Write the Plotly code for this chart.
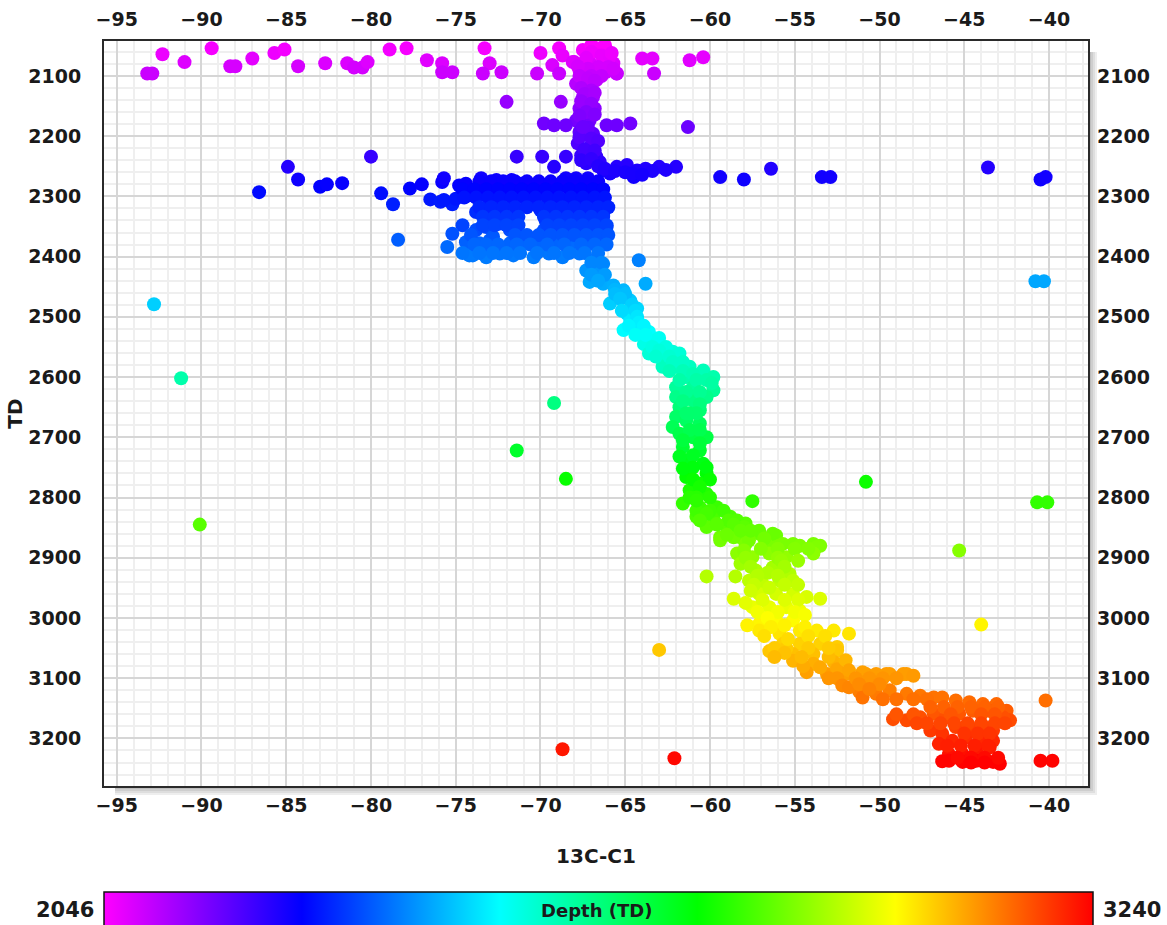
import plotly.graph_objects as go

# ---------------- data (13C-C1 vs TD) ----------------
top_x = [-93.2, -92.9, -92.3, -91.0, -89.4, -88.3, -88.0, -87.0, -85.7, -85.1, -84.3, -82.7,
         -81.4, -81.0, -80.5, -80.2, -78.9, -77.9, -76.7, -75.8, -75.8, -75.2, -73.3, -73.0,
         -73.4, -72.3, -70.0, -70.2, -69.3, -68.9, -68.7, -68.1, -68.9, -65.5, -64.0, -63.4,
         -63.3, -61.2, -60.4]
top_y = [2096, 2096, 2064, 2077, 2054, 2084, 2084, 2071, 2062, 2056, 2084, 2079,
         2079, 2086, 2086, 2077, 2056, 2054, 2074, 2079, 2094, 2094, 2054, 2079,
         2096, 2094, 2062, 2096, 2082, 2054, 2066, 2077, 2096, 2096, 2071, 2071,
         2096, 2074, 2069]

col_x = [-67.5, -66.7, -66.1, -67.1, -66.3, -65.7, -67.7, -66.9, -66.1, -65.5, -67.0, -66.2,
         -68.0, -67.9, -67.1, -66.7, -67.5, -66.9, -67.7, -66.8, -67.9, -67.1, -67.7, -66.9,
         -67.8, -67.0, -67.6, -66.7, -67.3, -66.5, -66.3, -65.9, -65.5, -64.9, -64.5, -64.3,
         -63.8, -63.0, -62.0,
         -67.0, -66.4, -65.9, -67.3, -66.6, -66.0, -67.2, -65.8, -67.8, -66.4, -67.0, -65.7,
         -67.7, -67.2, -66.8, -67.6, -67.0, -67.4, -66.8, -67.6, -67.0, -67.3, -66.8, -67.7,
         -67.2, -67.7, -67.0, -66.6, -67.4, -66.8, -67.6, -67.0, -66.6, -66.2, -65.6, -65.0,
         -64.6, -63.4, -62.6, -64.0,
         -69.8, -69.2, -68.5, -67.5, -66.1, -65.5, -64.7, -61.3, -72.0, -68.8,
         -71.4, -69.9, -68.5, -69.2,
         -59.4, -58.0, -56.4, -53.4, -52.9, -43.6, -40.5, -40.2]
col_y = [2057, 2054, 2057, 2077, 2077, 2079, 2090, 2096, 2093, 2096, 2049, 2049,
         2077, 2113, 2115, 2107, 2135, 2135, 2154, 2154, 2174, 2174, 2193, 2196,
         2212, 2215, 2232, 2234, 2245, 2243, 2257, 2262, 2251, 2248, 2268, 2257,
         2254, 2251, 2251,
         2060, 2066, 2068, 2070, 2085, 2085, 2088, 2062, 2084, 2100, 2100, 2088,
         2100, 2104, 2108, 2120, 2124, 2130, 2128, 2142, 2146, 2160, 2164, 2166,
         2186, 2202, 2204, 2208, 2222, 2224, 2240, 2238, 2250, 2254, 2258, 2260,
         2262, 2258, 2256, 2264,
         2179, 2182, 2182, 2185, 2182, 2182, 2179, 2185, 2143, 2143,
         2234, 2234, 2234, 2251,
         2268, 2272, 2254, 2268, 2268, 2252, 2272, 2268]

left_x = [-80.0, -84.9, -84.3, -83.0, -82.6, -81.7, -86.6, -79.4, -78.7, -78.4, -77.7, -77.0,
          -75.8, -74.8, -76.5, -75.9, -75.2, -74.2, -74.6, -75.2, -75.5, -74.2, -74.0]
left_y = [2234, 2251, 2272, 2284, 2280, 2278, 2293, 2295, 2313, 2372, 2287, 2280,
          2276, 2282, 2305, 2309, 2313, 2298, 2348, 2362, 2384, 2378, 2398]

blob_x = [-75.7, -74.4, -73.5, -72.6, -71.7, -71.1, -70.0, -68.5, -67.9, -67.2,
          -75.7, -75.0, -73.6, -72.8, -71.8, -71.0, -70.0, -69.1, -68.1, -67.1, -66.5,
          -73.8, -73.2, -72.4, -71.4, -70.0, -69.1, -68.1, -67.1, -66.3,
          -73.8, -73.2, -71.8, -71.4, -69.8, -68.9, -67.9, -66.9, -66.1,
          -74.4, -73.6, -73.0, -71.8, -71.0, -70.0, -69.1, -68.1, -67.1, -66.3,
          -74.2, -73.2, -72.4, -71.6, -70.4, -69.5, -68.7, -67.7, -66.9, -66.3,
          -72.2, -69.5, -67.5, -66.5, -72.4, -70.4, -69.5, -68.5, -67.5,
          -72.8, -69.5, -68.5, -67.5, -66.5, -69.7, -68.5, -67.5, -66.5, -72.4, -71.6,
          -73.6, -72.9, -72.2, -71.5, -70.8, -70.1, -69.4, -68.7, -68.0, -67.3, -66.6,
          -74.6, -73.9, -73.2, -72.5, -71.8, -71.1, -70.4, -69.7, -69.0, -68.3,
          -67.6, -66.9, -66.3,
          -74.5, -73.8, -73.1, -72.4, -71.7, -71.0, -70.3, -69.6, -68.9, -68.2, -67.5,
          -66.8, -66.2,
          -73.6, -72.9, -72.2, -71.5, -70.8, -70.1, -69.4, -68.7, -68.0, -67.3,
          -66.6, -66.0,
          -73.4, -72.7, -72.0, -71.3, -69.8, -69.1, -68.4, -67.7, -67.0, -66.3,
          -73.4, -72.7, -72.0, -71.3, -69.6, -68.9, -68.2, -67.5, -66.8, -66.1,
          -74.1, -71.5, -70.8, -70.1, -69.4, -68.7, -68.0, -67.3, -66.6, -66.0,
          -73.9, -73.2, -72.5, -71.4, -70.6, -69.6, -68.6, -67.6, -66.8, -66.1,
          -74.6, -73.6, -72.8, -72.0, -71.2, -70.2, -69.2, -68.3, -67.4, -66.6,
          -64.2, -67.3, -66.5, -66.9]
blob_y = [2270, 2279, 2270, 2273, 2273, 2279, 2279, 2270, 2270, 2270,
          2306, 2304, 2295, 2298, 2295, 2301, 2295, 2295, 2295, 2301, 2317,
          2326, 2331, 2329, 2326, 2323, 2326, 2326, 2329, 2331,
          2356, 2351, 2356, 2362, 2356, 2356, 2356, 2356, 2351,
          2376, 2378, 2373, 2378, 2378, 2378, 2378, 2384, 2378, 2378,
          2398, 2401, 2395, 2398, 2401, 2395, 2401, 2395, 2406, 2412,
          2284, 2284, 2284, 2290, 2312, 2312, 2312, 2312, 2312,
          2367, 2367, 2367, 2367, 2367, 2340, 2340, 2342, 2342, 2345, 2345,
          2275, 2275, 2275, 2275, 2275, 2275, 2275, 2275, 2275, 2275, 2275,
          2288, 2288, 2288, 2288, 2288, 2288, 2288, 2288, 2288, 2288,
          2288, 2288, 2288,
          2302, 2302, 2302, 2302, 2302, 2302, 2302, 2302, 2302, 2302, 2302,
          2302, 2302,
          2318, 2318, 2318, 2318, 2318, 2318, 2318, 2318, 2318, 2318,
          2318, 2318,
          2334, 2334, 2334, 2334, 2334, 2334, 2334, 2334, 2334, 2334,
          2348, 2348, 2348, 2348, 2348, 2348, 2348, 2348, 2348, 2348,
          2364, 2364, 2364, 2364, 2364, 2364, 2364, 2364, 2364, 2364,
          2380, 2380, 2380, 2380, 2380, 2380, 2380, 2380, 2380, 2380,
          2394, 2394, 2394, 2394, 2394, 2394, 2394, 2394, 2394, 2394,
          2406, 2423, 2428, 2439]

trail_x = [-66.5, -67.1, -66.3, -65.7, -65.1, -64.7, -65.9, -64.3, -64.9, -64.7, -65.1, -64.1,
           -63.6, -63.9, -63.2, -63.6, -62.8, -62.2, -61.8, -62.8, -62.0, -61.2, -60.4, -59.8,
           -61.4, -62.0, -61.0, -59.8, -62.0, -61.0, -60.2, -61.8, -60.6, -62.0, -61.4, -62.2,
           -60.6, -61.8, -61.0, -60.2, -61.6, -60.6, -61.4, -60.4, -60.2, -61.4, -60.6, -61.2,
           -60.2, -61.6, -60.6, -59.6, -60.8, -59.8, -58.8, -60.2, -59.0, -57.9, -59.4, -58.2,
           -57.1, -56.1, -57.9, -56.3, -55.1, -53.9, -53.5,
           -67.0, -66.4, -67.0, -66.2, -66.6, -65.6, -65.0, -65.6, -65.3, -64.6, -64.4, -65.2,
           -64.3, -64.2, -63.9, -64.8, -63.8, -64.4, -63.0, -63.4, -62.6, -63.0, -62.4, -63.2,
           -61.6, -62.2, -61.6, -62.4, -61.0, -60.2, -60.8, -61.8, -59.9, -61.4, -60.6, -61.6,
           -60.6, -61.2, -60.8, -61.4, -61.2, -60.6, -61.6, -60.6, -61.0, -61.8, -61.0, -60.2,
           -61.6, -61.0, -60.0, -60.6, -60.8, -60.0, -61.2, -60.8, -60.0, -59.2, -58.9,
           -63.8, -57.5, -68.5, -69.2]
trail_y = [2423, 2442, 2445, 2448, 2456, 2473, 2478, 2486, 2495, 2506, 2522, 2517,
           2525, 2545, 2539, 2561, 2572, 2558, 2561, 2583, 2583, 2583, 2589, 2600,
           2600, 2617, 2617, 2622, 2633, 2639, 2633, 2650, 2655, 2666, 2672, 2683,
           2677, 2694, 2700, 2700, 2716, 2722, 2738, 2744, 2760, 2766, 2777, 2788,
           2794, 2810, 2816, 2816, 2832, 2832, 2832, 2849, 2849, 2843, 2866, 2866,
           2860, 2863, 2877, 2877, 2877, 2877, 2880,
           2410, 2410, 2430, 2430, 2440, 2455, 2462, 2462, 2470, 2480, 2490, 2490,
           2500, 2510, 2515, 2515, 2530, 2530, 2535, 2550, 2550, 2556, 2566, 2566,
           2575, 2575, 2590, 2590, 2595, 2605, 2605, 2605, 2610, 2625, 2625, 2640,
           2645, 2660, 2660, 2660, 2688, 2688, 2705, 2710, 2730, 2732, 2750, 2750,
           2752, 2770, 2770, 2782, 2800, 2800, 2800, 2822, 2822, 2822, 2838,
           2445, 2806, 2769, 2643]

low_x = [-60.8, -60.2, -60.6, -59.6, -58.4, -58.0, -57.1, -56.3, -59.4, -58.6, -57.7, -56.7,
         -55.7, -54.7, -53.7, -53.9, -58.4, -57.5, -56.5, -55.5, -58.2, -57.3, -56.3, -55.3,
         -57.7, -56.9, -55.9, -55.1, -57.1, -56.1, -55.1, -54.3, -53.5, -57.5, -56.5, -55.5,
         -54.7, -57.1, -56.1, -55.1, -57.1, -55.9, -54.7, -53.7, -52.7, -51.8, -55.7, -54.7,
         -53.5, -52.5, -55.1, -53.9, -52.5, -55.1, -53.9, -52.7, -54.3, -53.1, -52.0, -50.8,
         -49.6, -48.4,
         -56.5, -55.5, -54.5, -53.5, -52.5, -51.0, -52.5, -50.5, -53.0, -52.0,
         -58.6, -59.6, -58.2, -57.6, -59.0, -56.8, -57.0, -56.0, -55.0, -54.2, -58.0, -56.0,
         -57.9, -55.8, -54.8, -57.6, -55.6, -56.6, -57.2, -56.0, -57.4, -55.6, -54.8, -56.5,
         -57.6, -56.9, -55.6, -54.8, -57.9, -56.0, -57.2, -55.0, -54.4, -56.6, -57.8, -55.6,
         -54.4, -56.4, -56.8, -54.2, -53.2, -55.4, -54.2, -53.0, -56.2, -55.6, -54.6, -56.2,
         -53.0, -52.2, -51.2,
         -60.2, -58.5, -58.6, -50.8, -63.0]
low_y = [2805, 2827, 2838, 2844, 2838, 2849, 2855, 2860, 2871, 2866, 2871, 2877,
         2877, 2880, 2882, 2893, 2893, 2899, 2893, 2899, 2910, 2921, 2916, 2927,
         2938, 2943, 2938, 2938, 2960, 2960, 2960, 2965, 2968, 2982, 2982, 2982,
         2988, 3010, 3004, 3004, 3021, 3026, 3021, 3021, 3021, 3026, 3043, 3043,
         3043, 3048, 3060, 3060, 3054, 3071, 3076, 3073, 3090, 3093, 3093, 3093,
         3093, 3093,
         3055, 3050, 3080, 3082, 3085, 3105, 3100, 3110, 3065, 3070,
         2845, 2845, 2855, 2855, 2862, 2868, 2885, 2885, 2885, 2885, 2888, 2900,
         2900, 2905, 2905, 2915, 2915, 2925, 2930, 2930, 2945, 2945, 2945, 2950,
         2955, 2970, 2970, 2970, 2975, 2990, 2990, 2990, 2995, 3000, 3012, 3012,
         3015, 3015, 3030, 3030, 3030, 3035, 3050, 3050, 3050, 3058, 3065, 3065,
         3100, 3112, 3122,
         2931, 2931, 2968, 2774, 3053]

deep_x = [-51.8, -51.0, -50.2, -49.4, -48.6, -48.0,
          -51.8, -51.0, -50.2, -49.4, -48.4, -47.6, -46.8, -46.3, -45.5, -44.7, -43.9, -43.1,
          -42.5, -42.3, -49.2, -48.4, -47.6, -46.8, -46.1, -45.3, -44.5, -43.5, -42.7,
          -47.0, -46.3, -45.5, -44.7, -43.9, -43.3, -46.5, -45.7, -44.9, -44.1, -43.3,
          -45.9, -45.1, -44.3, -43.5, -45.9, -45.1, -44.3, -43.3, -42.9,
          -51.4, -50.6, -49.8, -49.0, -51.2, -50.0, -50.6, -49.8, -49.0, -48.0, -47.2,
          -47.0, -46.2, -45.4, -44.6, -43.8, -43.0, -49.0, -48.0, -45.8, -44.0, -43.2,
          -47.8, -47.2, -46.4, -45.6, -44.8, -44.0, -43.2, -42.6, -45.0, -44.2, -43.5,
          -46.0, -45.2, -44.4, -43.6, -45.4, -44.6, -43.8, -43.0, -46.3, -44.6, -43.8,
          -40.2, -40.5, -39.8]
deep_y = [3087, 3090, 3093, 3093, 3093, 3096,
          3115, 3132, 3126, 3120, 3126, 3129, 3132, 3132, 3137, 3140, 3143, 3143,
          3154, 3170, 3168, 3170, 3165, 3159, 3165, 3159, 3154, 3154, 3165,
          3187, 3192, 3181, 3181, 3181, 3187, 3209, 3204, 3198, 3204, 3204,
          3226, 3226, 3220, 3215, 3237, 3239, 3237, 3239, 3242,
          3100, 3100, 3100, 3100, 3110, 3110, 3118, 3135, 3135, 3135, 3135,
          3148, 3148, 3148, 3148, 3148, 3148, 3160, 3160, 3160, 3160, 3160,
          3175, 3175, 3175, 3175, 3175, 3175, 3175, 3175, 3192, 3192, 3192,
          3212, 3212, 3212, 3212, 3232, 3232, 3232, 3232, 3238, 3240, 3240,
          3137, 3237, 3237]

iso_x = [-92.8, -91.2, -90.1, -71.4, -68.7, -62.1, -45.3, -44.0, -40.7, -40.1, -40.8, -40.3]
iso_y = [2479, 2602, 2845, 2722, 3218, 3233, 2888, 3011, 2808, 2808, 2441, 2441]

depth_min, depth_max = 2046, 3240
x_ticks = [-95, -90, -85, -80, -75, -70, -65, -60, -55, -50, -45, -40]
y_ticks = [2100, 2200, 2300, 2400, 2500, 2600, 2700, 2800, 2900, 3000, 3100, 3200]

xs = top_x + col_x + left_x + blob_x + trail_x + low_x + deep_x + iso_x
ys = top_y + col_y + left_y + blob_y + trail_y + low_y + deep_y + iso_y

# ---------------- figure ----------------
rainbow = [[0.0, "#ff00ff"], [0.2, "#0000ff"], [0.4, "#00ffff"],
           [0.6, "#00ff00"], [0.8, "#ffff00"], [1.0, "#ff0000"]]

W, H = 1167, 925
L, R, T, B = 104, 79, 41, 139
PW, PH = W - L - R, H - T - B


def px(xp):
    return (xp - L) / PW


def py(yp):
    return (H - B - yp) / PH


fig = go.Figure()
fig.add_trace(go.Scatter(
    x=xs, y=ys, mode="markers", showlegend=False,
    marker=dict(size=14, color=ys, colorscale=rainbow, cmin=depth_min, cmax=depth_max,
                line=dict(width=0), opacity=1,
                colorbar=dict(orientation="h", x=px(598.5), xanchor="center",
                              y=py(892), yanchor="top", len=989, lenmode="pixels",
                              thickness=42, thicknessmode="pixels", xpad=0, ypad=0,
                              outlinewidth=1.5, outlinecolor="#111111",
                              showticklabels=False, ticks="")),
    hovertemplate="13C-C1=%{x}<br>TD=%{y}<extra></extra>",
))
fig.add_trace(go.Scatter(x=[None], y=[None], xaxis="x2", yaxis="y2",
                         showlegend=False, hoverinfo="skip"))

FONT = "DejaVu Sans"
tickfont = dict(family=FONT, size=19, color="#1a1a1a", weight="bold")
xr = [-95.75, -37.7]
yr = [3279, 2042]
common_x = dict(range=xr, tickmode="array", tickvals=x_ticks, tickfont=tickfont,
                ticks="", zeroline=False)
common_y = dict(range=yr, tickmode="array", tickvals=y_ticks, tickfont=tickfont,
                ticks="", zeroline=False)

fig.update_layout(
    width=W, height=H,
    margin=dict(l=L, r=R, t=T, b=B, autoexpand=False),
    paper_bgcolor="white", plot_bgcolor="white",
    font=dict(family=FONT, color="#1a1a1a"),
    xaxis=dict(**common_x, showgrid=True, gridcolor="#d6d6d6", gridwidth=2,
               minor=dict(dtick=1, tick0=-95, showgrid=True, gridcolor="#efefef", gridwidth=2),
               showline=True, linecolor="#2a2a2a", linewidth=2, mirror=True,
               ticklabelstandoff=1,
               title=dict(text="13C-C1", font=dict(family=FONT, size=20, weight="bold",
                                                   color="#1a1a1a"), standoff=34)),
    yaxis=dict(**common_y, showgrid=True, gridcolor="#d6d6d6", gridwidth=2,
               minor=dict(dtick=20, tick0=2100, showgrid=True, gridcolor="#efefef", gridwidth=2),
               showline=True, linecolor="#2a2a2a", linewidth=2, mirror=True,
               ticklabelstandoff=17,
               title=dict(text="TD", font=dict(family=FONT, size=20, weight="bold",
                                               color="#1a1a1a"), standoff=0)),
    xaxis2=dict(**common_x, overlaying="x", side="top", anchor="y2", showgrid=False,
                showline=False, ticklabelstandoff=10),
    yaxis2=dict(**common_y, overlaying="y", side="right", anchor="x2", showgrid=False,
                showline=False, ticklabelstandoff=8),
)

# drop shadow right and below the plot frame
shade = ["#bdbdbd", "#cecece", "#dedede", "#eeeeee"]
for i, c in enumerate(shade):
    fig.add_shape(type="rect", xref="paper", yref="paper", layer="below",
                  x0=px(1089 + 2 * i), x1=px(1091 + 2 * i), y0=py(52), y1=py(787 + 2 * i),
                  fillcolor=c, line=dict(width=0))
    fig.add_shape(type="rect", xref="paper", yref="paper", layer="below",
                  x0=px(115), x1=px(1091 + 2 * i), y0=py(787 + 2 * i), y1=py(789 + 2 * i),
                  fillcolor=c, line=dict(width=0))

ann_font = dict(family=FONT, size=21, color="#1a1a1a", weight="bold")
fig.add_annotation(text=str(depth_min), xref="paper", yref="paper", x=px(96), y=py(910),
                   xanchor="right", yanchor="middle", showarrow=False, font=ann_font)
fig.add_annotation(text=str(depth_max), xref="paper", yref="paper", x=px(1101), y=py(910),
                   xanchor="left", yanchor="middle", showarrow=False, font=ann_font)
fig.add_annotation(text="Depth (TD)", xref="paper", yref="paper", x=px(596), y=py(910),
                   xanchor="center", yanchor="middle", showarrow=False,
                   font=dict(family=FONT, size=18, color="#1a1a1a", weight="bold"))

fig.write_html("out.html",
               config={"displayModeBar": False},
               post_script="document.body.style.margin='0px';"
                           "document.body.style.overflow='hidden';")
